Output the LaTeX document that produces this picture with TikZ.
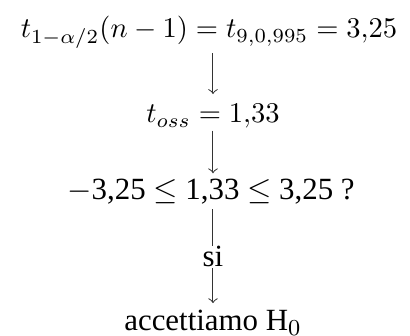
\documentclass[tikz,border=0pt]{standalone}
\usepackage{fontspec}
\setmainfont{Liberation Serif}
\begin{document}
\begin{tikzpicture}[x=0.35pt,y=-0.35pt,
  lbl/.style={anchor=base,inner sep=0pt},
  txt/.style={lbl,font=\fontsize{10.8}{13}\selectfont},
  conn/.style={draw=black!80,line width=0.35pt},
  arr/.style={conn,->}]
\useasboundingbox (0,0) rectangle (410,336);
\node[lbl] (top) at (209,38) {$t_{1-\alpha/2}(n-1)=t_{9{,}0{,}995}=3{,}25$};
\node[lbl] (toss) at (213,123) {$t_{oss}=1{,}33$};
\node[txt] (ineq) at (211,200) {$-$3,25 $\le$ 1,33 $\le$ 3,25 ?};
\node[txt] (si) at (213,267) {si};
\node[txt] (acc) at (213,331) {accettiamo H$_0$};
\draw[arr,shorten <=1.5pt,shorten >=3.5pt] (top.south -| toss) -- (toss.north);
\draw[arr,shorten <=0.5pt,shorten >=2pt] (toss.south) -- (toss.south |- ineq.north);
\draw[conn,shorten <=1.4pt] (si.north |- ineq.south) -- (si.north);
\draw[arr,shorten >=2.4pt] (si.south) -- (acc.north);
\end{tikzpicture}
\end{document}
